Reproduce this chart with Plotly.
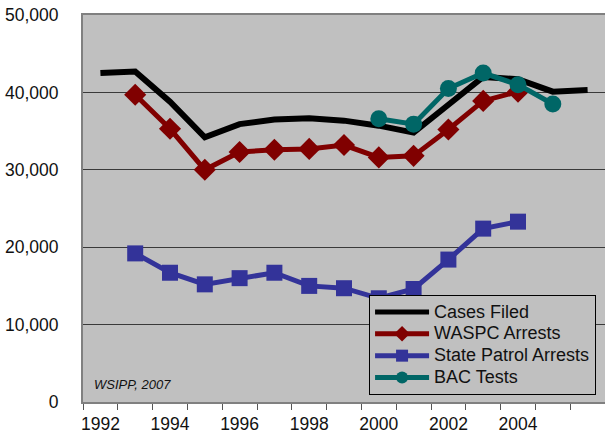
import plotly.graph_objects as go

cases_years = list(range(1992, 2007))
cases_filed = [42500, 42700, 38800, 34200, 35900, 36500, 36650, 36350, 35700, 34800, 38400, 42000, 41700, 40100, 40300]
waspc_years = list(range(1993, 2005))
waspc = [39700, 35300, 30000, 32300, 32600, 32700, 33200, 31600, 31800, 35200, 38900, 40100]
patrol_years = list(range(1993, 2005))
patrol = [19200, 16700, 15200, 16000, 16700, 15000, 14700, 13400, 14600, 18400, 22400, 23300]
bac_years = list(range(2000, 2006))
bac = [36600, 35900, 40500, 42500, 41000, 38500]
x_labels = [1992, 1994, 1996, 1998, 2000, 2002, 2004]
y_ticks = [0, 10000, 20000, 30000, 40000, 50000]
y_labels = ["0", "10,000", "20,000", "30,000", "40,000", "50,000"]


def lg(name):
    return '<span style="font-size:18px">' + name + '</span>'


fig = go.Figure()
fig.add_trace(go.Scatter(x=cases_years, y=cases_filed, name=lg("Cases Filed"), mode="lines",
                         line=dict(color="#000000", width=6)))
fig.add_trace(go.Scatter(x=waspc_years, y=waspc, name=lg("WASPC Arrests"), mode="lines+markers",
                         line=dict(color="#800000", width=5),
                         marker=dict(symbol="diamond", size=17, color="#800000")))
fig.add_trace(go.Scatter(x=patrol_years, y=patrol, name=lg("State Patrol Arrests"), mode="lines+markers",
                         line=dict(color="#333399", width=5),
                         marker=dict(symbol="square", size=16, color="#333399")))
fig.add_trace(go.Scatter(x=bac_years, y=bac, name=lg("BAC Tests"), mode="lines+markers",
                         line=dict(color="#006666", width=5),
                         marker=dict(symbol="circle", size=17, color="#006666")))

fig.add_annotation(text="<i>WSIPP, 2007</i>", xref="paper", yref="paper", x=0.0, y=0.045,
                   xshift=9, xanchor="left", yanchor="middle", showarrow=False,
                   font=dict(family="Arial, Liberation Sans", size=13, color="#111"))

fig.update_layout(
    width=605, height=440,
    margin=dict(l=83, r=0, t=15, b=38),
    paper_bgcolor="white", plot_bgcolor="#C0C0C0",
    font=dict(family="Arial, Liberation Sans", size=17.5, color="#111"),
    legend=dict(x=0.548, y=0.018, xanchor="left", yanchor="bottom",
                bgcolor="#C0C0C0", bordercolor="#000000", borderwidth=1,
                font=dict(size=14.5, color="#111"), tracegroupgap=0, itemwidth=54,
                itemsizing="constant"),
    xaxis=dict(range=[1991.5, 2006.5], tickvals=x_labels, ticktext=[str(v) for v in x_labels],
               ticks="", showgrid=False, zeroline=False, automargin=False,
               showline=True, mirror=True, linecolor="#808080", linewidth=2,
               ticklabelstandoff=5,
               minor=dict(tick0=1991.5, dtick=1, ticks="outside", ticklen=6,
                          tickcolor="#555", tickwidth=1, showgrid=False)),
    yaxis=dict(range=[0, 50000], tickvals=y_ticks, ticktext=y_labels,
               showgrid=True, gridcolor="#3a3a3a", gridwidth=1, zeroline=False,
               automargin=False,
               showline=True, linecolor="#808080", linewidth=2, ticks="",
               ticklabelstandoff=19),
)

fig.write_html("out.html", config={"displayModeBar": False},
               post_script="document.body.style.margin='0';")
